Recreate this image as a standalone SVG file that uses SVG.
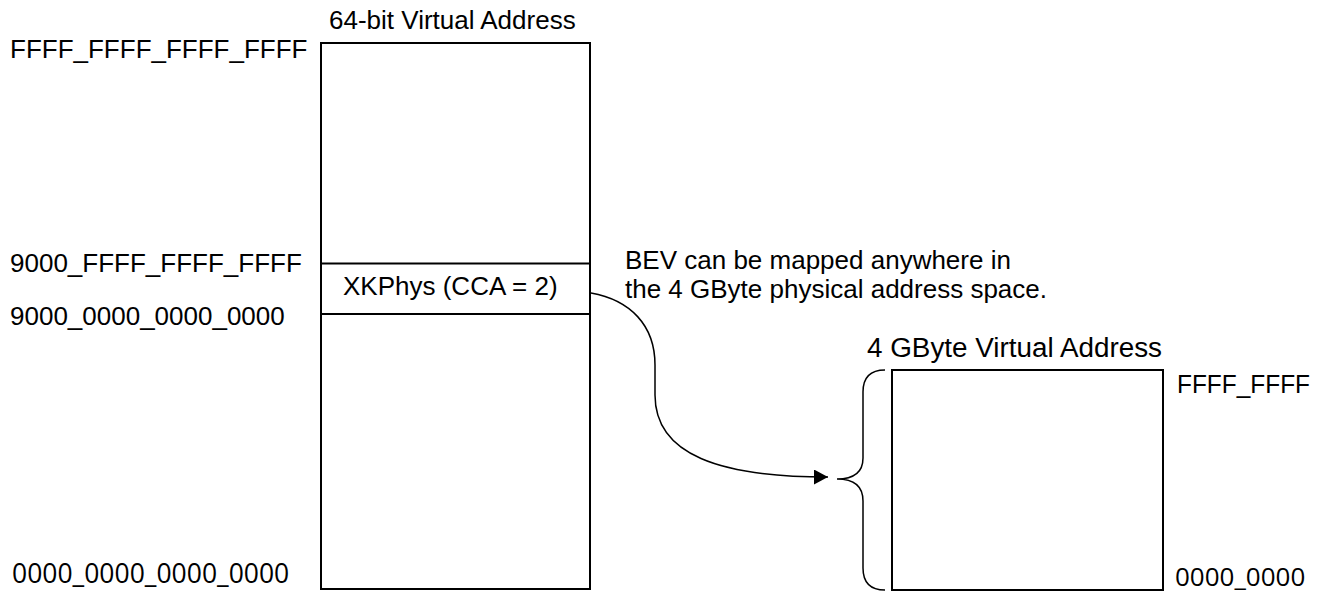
<svg xmlns="http://www.w3.org/2000/svg" width="1332" height="592" viewBox="0 0 1332 592">
<style>
.t{font-family:"Liberation Sans",Arial,sans-serif;font-size:26px;fill:#000}
.o{font-family:"Open Sans","Noto Sans",sans-serif;font-size:26px;fill:#000}
.box{fill:#fff;stroke:#000;stroke-width:2}
.ln{fill:none;stroke:#000;stroke-width:2}
.thin{fill:none;stroke:#000;stroke-width:1.5}
</style>
<defs>
<marker id="ah" viewBox="0 0 14 15" refX="14" refY="7.5" markerWidth="14" markerHeight="15" markerUnits="userSpaceOnUse" orient="auto">
<path d="M0,0 L14,7.5 L0,15 Z" fill="#000"/>
</marker>
</defs>
<g id="labels">
<text class="t" x="329" y="29">64-bit Virtual Address</text>
<text class="t" x="10" y="58">FFFF_FFFF_FFFF_FFFF</text>
<text class="t" x="10" y="272">9000_FFFF_FFFF_FFFF</text>
<text class="t" x="10" y="325">9000_0000_0000_0000</text>
<text class="o" x="12" y="583" style="font-size:26.5px">0000_0000_0000_0000</text>
<text class="t" x="625" y="269">BEV can be mapped anywhere in</text>
<text class="t" x="625" y="298">the 4 GByte physical address space.</text>
<text class="t" x="867" y="357" textLength="295" lengthAdjust="spacingAndGlyphs" style="font-size:27px">4 GByte Virtual Address</text>
<text class="t" x="1177" y="393" textLength="133" lengthAdjust="spacingAndGlyphs">FFFF_FFFF</text>
<text class="o" x="1175" y="586">0000_0000</text>
</g>
<g id="va64">
<rect class="box" x="321" y="43" width="269" height="546"/>
</g>
<g id="xkphys">
<line class="ln" x1="321" y1="263.5" x2="590" y2="263.5"/>
<line class="ln" x1="321" y1="314" x2="590" y2="314"/>
<text class="t" x="343" y="295">XKPhys (CCA = 2)</text>
</g>
<g id="va4g">
<rect class="box" x="892" y="370" width="271" height="220"/>
</g>
<g id="brace">
<path class="thin" d="M885,370 Q863,370 863,392 L863,458 Q863,479 837,479 Q863,479 863,501 L863,568 Q863,590 885,590"/>
</g>
<g id="connectors">
<path class="thin" d="M591,293 C630,300 655,325 655,365 L655,395 C655,455 720,477 828,477" marker-end="url(#ah)"/>
</g>
</svg>
